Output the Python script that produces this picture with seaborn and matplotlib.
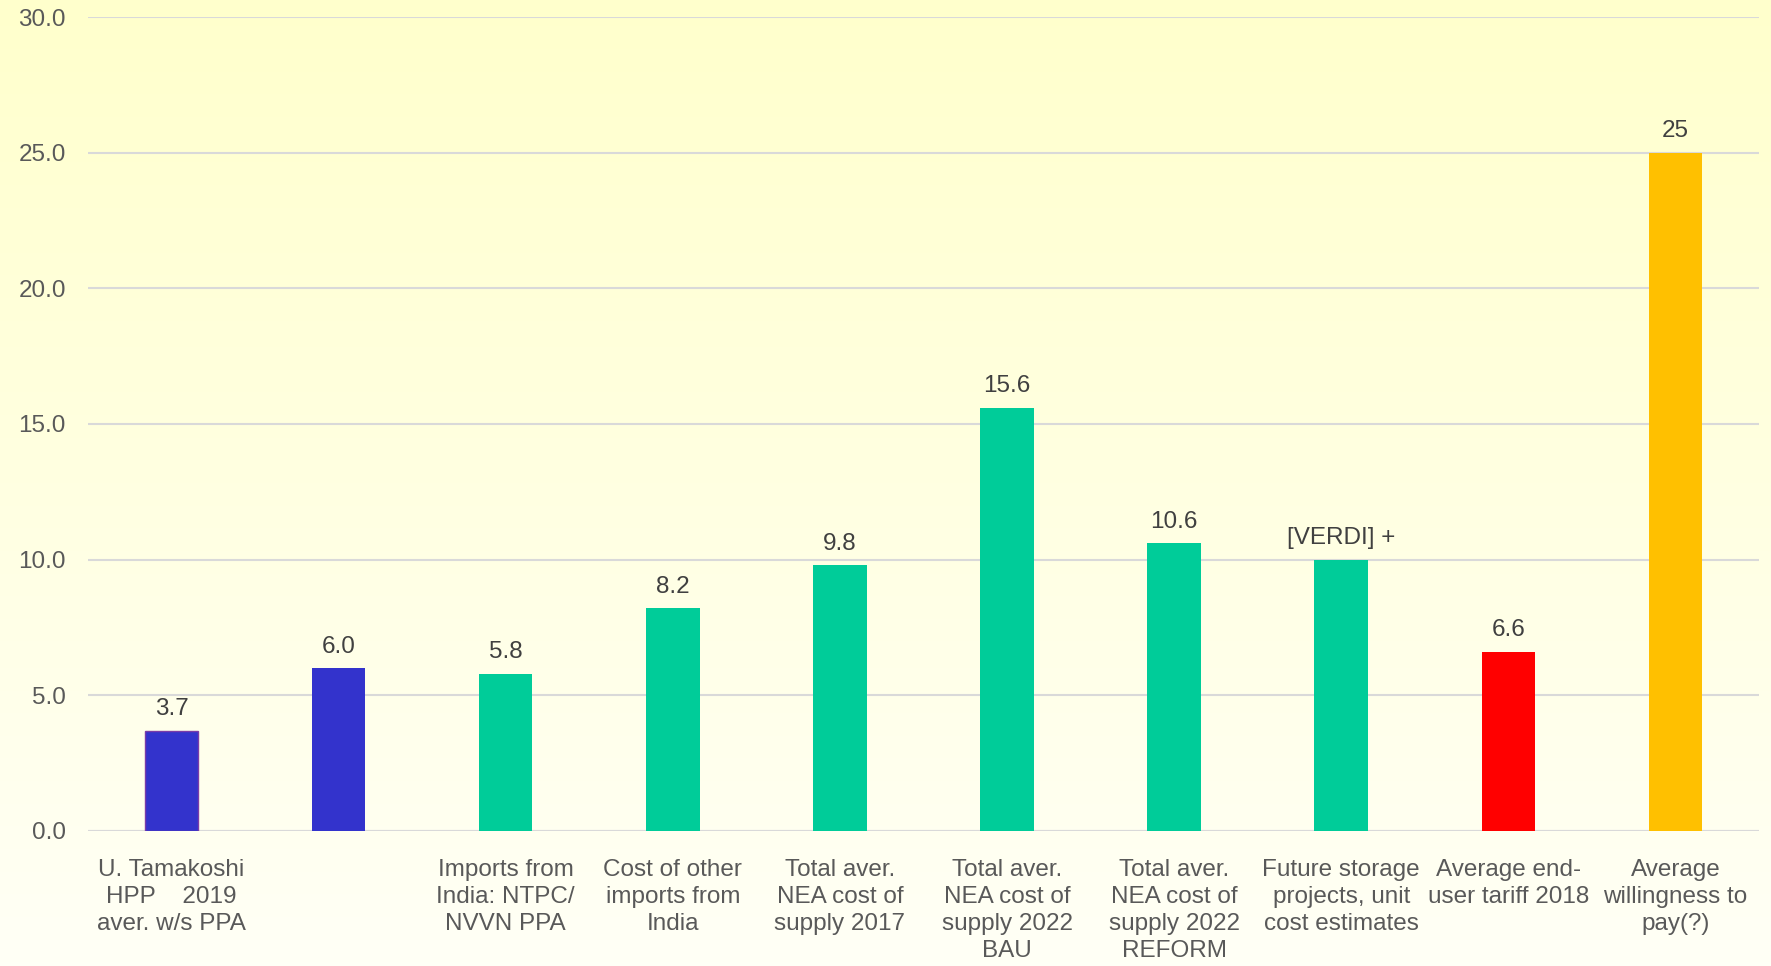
import numpy as np
import pandas as pd
import matplotlib
matplotlib.use("Agg")
import matplotlib.pyplot as plt
from matplotlib.colors import LinearSegmentedColormap
import seaborn as sns

# Unit costs / tariffs (US cents per kWh)
categories = [
    "U. Tamakoshi\nHPP    2019\naver. w/s PPA",
    "",
    "Imports from\nIndia: NTPC/\nNVVN PPA",
    "Cost of other\nimports from\nIndia",
    "Total aver.\nNEA cost of\nsupply 2017",
    "Total aver.\nNEA cost of\nsupply 2022\nBAU",
    "Total aver.\nNEA cost of\nsupply 2022\nREFORM",
    "Future storage\nprojects, unit\ncost estimates",
    "Average end-\nuser tariff 2018",
    "Average\nwillingness to\npay(?)",
]
values = [3.7, 6.0, 5.8, 8.2, 9.8, 15.6, 10.6, 10.0, 6.6, 25.0]
value_labels = ["3.7", "6.0", "5.8", "8.2", "9.8", "15.6", "10.6", "[VERDI] +", "6.6", "25"]
bar_colors = ["#3333CC", "#3333CC", "#00CC99", "#00CC99", "#00CC99",
              "#00CC99", "#00CC99", "#00CC99", "#FF0000", "#FFC000"]
y_ticks = [0, 5, 10, 15, 20, 25, 30]

sns.set_theme(style="white")
plt.rcParams["font.family"] = ["Liberation Sans", "DejaVu Sans"]

fig = plt.figure(figsize=(17.71, 9.66), dpi=100)

# soft yellow backdrop fading downwards
bg = fig.add_axes([0, 0, 1, 1], zorder=0)
cmap = LinearSegmentedColormap.from_list("bg", ["#FFFFF6", "#FFFFCC"])
grad = np.linspace(0, 1, 256).reshape(-1, 1)
bg.imshow(grad, aspect="auto", cmap=cmap, origin="lower", extent=[0, 1, 0, 1])
bg.set_axis_off()

ax = fig.add_axes([0.0497, 0.1398, 0.9435, 0.8426], zorder=1)
ax.set_facecolor("none")

df = pd.DataFrame({"category": categories, "value": values})
sns.barplot(data=df, x="category", y="value", hue="category",
            palette=bar_colors, width=0.32, legend=False, ax=ax,
            saturation=1, linewidth=0, zorder=3)

# thin violet outline on the first bar
ax.patches[0].set_edgecolor("#7A3CA8")
ax.patches[0].set_linewidth(1.0)

for i, (v, lab) in enumerate(zip(values, value_labels)):
    ax.annotate(lab, xy=(i, v), xytext=(0, 7.5), textcoords="offset points",
                ha="center", va="bottom", fontsize=17.5, color="#404040")

ax.set_xlim(-0.5, len(categories) - 0.5)
ax.set_ylim(0, 30)
ax.set_yticks(y_ticks)
ax.set_yticklabels([f"{t:.1f}" for t in y_ticks])
ax.yaxis.grid(True, color="#D9D9D9", linewidth=1.5, zorder=0)
ax.set_axisbelow(True)
for s in ax.spines.values():
    s.set_visible(False)
ax.axhline(0, color="#D9D9D9", linewidth=1.5, zorder=2)

ax.tick_params(axis="x", length=0, pad=20, labelsize=17.5, labelcolor="#595959")
ax.tick_params(axis="y", length=0, pad=16, labelsize=17.5, labelcolor="#595959")
for t in ax.get_xticklabels():
    t.set_linespacing(1.3)
ax.set_xlabel("")
ax.set_ylabel("")

fig.savefig("out.png", dpi=100)
